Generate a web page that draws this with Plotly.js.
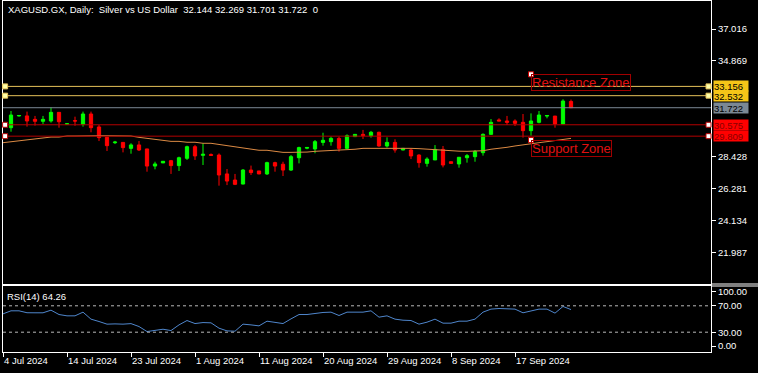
<!DOCTYPE html>
<html><head><meta charset="utf-8">
<script src="https://cdn.plot.ly/plotly-3.0.1.min.js"></script>
<style>html,body{margin:0;padding:0;background:#000;}#chart{width:758px;height:373px;}</style>
</head><body><div id="chart"></div>
<script>
// ---- data ----
const dates = ['2024-07-04','2024-07-05','2024-07-07','2024-07-08','2024-07-09','2024-07-10','2024-07-11','2024-07-12',
'2024-07-14','2024-07-15','2024-07-16','2024-07-17','2024-07-18','2024-07-19','2024-07-21','2024-07-22',
'2024-07-23','2024-07-24','2024-07-25','2024-07-26','2024-07-28','2024-07-29','2024-07-30','2024-07-31',
'2024-08-01','2024-08-02','2024-08-04','2024-08-05','2024-08-06','2024-08-07','2024-08-08','2024-08-09',
'2024-08-11','2024-08-12','2024-08-13','2024-08-14','2024-08-15','2024-08-16','2024-08-18','2024-08-19',
'2024-08-20','2024-08-21','2024-08-22','2024-08-23','2024-08-25','2024-08-26','2024-08-27','2024-08-28',
'2024-08-29','2024-08-30','2024-09-01','2024-09-02','2024-09-03','2024-09-04','2024-09-05','2024-09-06',
'2024-09-08','2024-09-09','2024-09-10','2024-09-11','2024-09-12','2024-09-13','2024-09-15','2024-09-16',
'2024-09-17','2024-09-18','2024-09-19','2024-09-20','2024-09-22','2024-09-23','2024-09-24','2024-09-25'];

const openP  = [null,30.38,31.17,31.17,30.94,30.81,30.83,31.41,30.62,30.85,30.61,31.30,30.43,29.73,29.37,29.39,
28.99,29.22,28.95,27.80,28.01,28.16,27.83,28.32,29.10,28.52,28.57,28.54,27.27,26.86,26.59,27.53,
27.47,27.27,28.03,27.92,27.53,28.36,29.00,28.95,29.39,29.44,29.66,28.99,29.78,29.93,29.84,30.07,
29.15,29.39,28.88,28.88,28.54,27.98,28.21,28.92,28.09,27.94,28.36,28.43,28.70,29.93,30.90,30.83,
30.83,30.74,30.18,30.74,31.16,31.16,30.63,32.144];
const highP  = [null,31.50,31.22,31.46,31.17,31.17,31.75,31.43,30.68,31.12,31.46,31.46,30.56,29.76,29.49,29.40,
29.33,29.48,28.96,28.09,28.14,28.21,28.43,29.17,29.22,29.33,28.65,28.65,27.60,27.27,27.60,27.83,
27.47,28.09,28.09,28.09,28.54,29.10,29.08,29.55,30.04,29.78,29.78,29.93,29.95,30.23,30.16,30.11,
29.73,29.60,29.00,28.99,28.59,28.39,29.21,29.15,28.09,28.39,28.61,28.88,30.00,30.96,31.01,31.17,
30.94,31.30,31.34,31.50,31.21,31.17,32.29,32.269];
const lowP   = [null,30.11,31.13,30.45,30.52,30.63,30.72,30.38,30.58,30.51,30.45,30.07,29.48,28.81,29.28,28.72,
28.63,28.81,27.42,27.58,28.00,27.27,27.47,28.21,28.21,27.87,28.50,26.48,26.52,26.52,26.57,27.20,
27.25,27.20,27.42,27.13,27.47,27.98,28.93,28.66,29.17,29.17,28.77,28.95,29.75,29.62,29.71,29.10,
29.04,28.70,28.86,28.27,27.69,27.76,28.21,27.71,27.98,27.69,28.03,28.09,28.50,29.93,30.83,30.56,
30.49,29.71,29.84,30.67,31.01,30.38,30.63,31.701];
const closeP = [null,31.23,31.20,30.83,30.81,30.94,31.41,30.78,30.64,30.83,31.30,30.38,29.71,29.17,29.41,29.04,
29.22,28.88,27.80,27.94,28.12,27.83,28.36,29.10,28.48,28.59,28.52,27.20,26.79,26.57,27.53,27.36,
27.27,28.03,27.80,27.53,28.43,29.04,29.05,29.44,29.53,29.66,28.99,29.84,29.93,29.84,30.07,29.15,
29.39,28.88,28.99,28.48,28.03,28.27,28.92,27.87,27.98,28.39,28.50,28.77,29.93,30.74,30.83,30.74,
30.67,30.18,30.83,31.23,31.20,30.63,32.17,31.722];

const maValues = [29.37,29.44,29.50,29.57,29.64,29.71,29.75,29.75,29.82,29.82,29.84,29.84,29.84,29.84,29.84,29.82,
29.82,29.73,29.66,29.60,29.53,29.46,29.46,29.40,29.40,29.33,29.33,29.26,29.17,29.08,29.01,28.93,
28.86,28.86,28.79,28.72,28.72,28.72,28.74,28.79,28.81,28.86,28.86,28.86,28.93,28.99,28.99,28.99,
29.04,28.99,28.99,28.99,28.97,28.93,28.93,28.88,28.84,28.80,28.79,28.81,28.83,28.93,28.97,29.06,
29.15,29.21,29.26,29.37,29.44,29.50,29.60,29.66];

const rsiValues = [57.8,62.4,62.4,59.5,59.4,59.4,63.4,56.8,54.8,54.8,60.4,49.8,46.2,42.2,42.6,42.2,
43.0,38.6,31.0,32.5,34.5,32.5,41.1,47.7,43.1,44.6,44.2,36.1,32.0,31.5,42.2,41.1,
39.6,46.7,45.2,43.1,50.2,56.8,56.8,58.9,59.9,60.4,55.3,60.4,60.4,60.4,62.4,52.8,
54.8,49.8,48.2,47.7,42.2,45.2,49.8,43.7,43.7,46.7,46.7,49.8,60.4,65.0,65.9,65.0,
65.0,59.4,61.9,65.0,65.0,58.9,69.0,64.26];

const levelValues = [33.156, 32.532, 31.722, 30.575, 29.809];
const priceTicks = [37.016, 34.869, 28.428, 26.281, 24.134, 21.987];
const rsiLevels = [70, 30];
const rsiTickLabels = ['100.00','70.00','30.00','0.00'];
const monthNames = ['Jan','Feb','Mar','Apr','May','Jun','Jul','Aug','Sep','Oct','Nov','Dec'];
const chartTitle = 'XAGUSD.GX, Daily:  Silver vs US Dollar  32.144 32.269 31.701 31.722  0';
const rsiTitle = 'RSI(14) 64.26';
const zoneLabels = ['Resistance Zone', 'Support Zone'];

// ---- styles ----
const FONT = 'Liberation Sans';
const FS = 9.5;
const levelLine = ['#e6c25a','#e6c25a','#7d8a96','#b40000','#b40000'];
const levelBoxBg = ['#f5c518','#f5c518','#7b8894','#ff0000','#ff0000'];
const levelBoxFg = ['#000000','#000000','#000000','#8a0000','#8a0000'];
const levelHandle = [true,true,false,true,true];
const handleFill = ['#ffffa8','#ffffa8','#fff','#ffffff','#ffffff'];

const idx = dates.map((_, i) => i);
const tickIdx = idx.filter(i => i % 8 === 0);
const tickText = tickIdx.map(i => {
  const [y, m, d] = dates[i].split('-');
  return parseInt(d, 10) + ' ' + monthNames[parseInt(m, 10) - 1] + ' ' + y;
});

const xr = [0, 88.5];

const traces = [
  {
    type: 'candlestick', x: idx, open: openP, high: highP, low: lowP, close: closeP,
    xaxis: 'x', yaxis: 'y',
    increasing: {line: {color: '#00ff00', width: 1}, fillcolor: '#00ff00'},
    decreasing: {line: {color: '#ff0000', width: 1}, fillcolor: '#ff0000'},
    whiskerwidth: 0, hoverinfo: 'none'
  },
  {
    type: 'scatter', mode: 'lines', x: idx, y: maValues, xaxis: 'x', yaxis: 'y',
    line: {color: '#dc8a44', width: 1}, hoverinfo: 'none'
  },
  {
    type: 'scatter', mode: 'lines', x: idx, y: rsiValues, xaxis: 'x2', yaxis: 'y2',
    line: {color: '#4f86cc', width: 1}, hoverinfo: 'none'
  }
];

const shapes = [];
const annotations = [];

levelValues.forEach((v, k) => {
  shapes.push({type: 'line', xref: 'paper', yref: 'y', x0: 0, x1: 1, y0: v, y1: v,
    line: {color: levelLine[k], width: 1}, layer: 'above'});
  annotations.push({xref: 'paper', yref: 'y', x: 1, y: v, xanchor: 'left', yanchor: 'middle',
    xshift: 2, text: v.toFixed(3), showarrow: false, bgcolor: levelBoxBg[k],
    font: {family: FONT, size: FS, color: levelBoxFg[k]}, borderpad: 0, width: 34, height: 10, align: 'left'});
  if (levelHandle[k]) {
    [0.003, 0.9965].forEach(px => {
      shapes.push({type: 'rect', xref: 'paper', yref: 'y', xsizemode: 'pixel', ysizemode: 'pixel',
        xanchor: px, yanchor: v, x0: -2.5, x1: 2.5, y0: -2.5, y1: 2.5,
        fillcolor: handleFill[k], line: {color: levelLine[k], width: 1}, layer: 'above'});
    });
  }
});

rsiLevels.forEach(v => {
  shapes.push({type: 'line', xref: 'paper', yref: 'y2', x0: 0, x1: 1, y0: v, y1: v,
    line: {color: '#b8b8b8', width: 1, dash: '3px,3px'}});
});

// zone labels
const zoneAnchor = [{x: 66, y: 33.97}, {x: 66, y: 29.55}];
zoneLabels.forEach((t, k) => {
  annotations.push({xref: 'x', yref: 'y', x: zoneAnchor[k].x, y: zoneAnchor[k].y, xanchor: 'left', yanchor: 'top',
    text: t, showarrow: false, font: {family: FONT, size: 13, color: '#e01010'},
    bordercolor: '#a00000', borderwidth: 1, borderpad: 0});
  shapes.push({type: 'rect', xref: 'x', yref: 'y', xsizemode: 'pixel', ysizemode: 'pixel',
    xanchor: zoneAnchor[k].x, yanchor: zoneAnchor[k].y, x0: -2.5, x1: 2.5, y0: -2.5, y1: 2.5,
    fillcolor: '#ffffff', line: {color: '#d00000', width: 1}, layer: 'above'});
});

// separators extending to the right edge
shapes.push({type: 'line', xref: 'paper', yref: 'paper', x0: 1, x1: 1.07, y0: 0.1937, y1: 0.1937, line: {color: '#fff', width: 1}});
shapes.push({type: 'line', xref: 'paper', yref: 'paper', x0: 1, x1: 1.07, y0: 0.188, y1: 0.188, line: {color: '#fff', width: 1}});

annotations.push({xref: 'paper', yref: 'paper', x: 0, y: 1, xanchor: 'left', yanchor: 'top', xshift: 3, yshift: -1,
  text: chartTitle, showarrow: false, font: {family: FONT, size: FS, color: '#fff'}});
annotations.push({xref: 'paper', yref: 'paper', x: 0, y: 0.188, xanchor: 'left', yanchor: 'top', xshift: 2, yshift: -3,
  text: rsiTitle, showarrow: false, font: {family: FONT, size: FS, color: '#fff'}});

const axisCommon = {showgrid: false, zeroline: false, showline: true, mirror: true, linecolor: '#fff', linewidth: 1,
  tickcolor: '#fff', tickfont: {family: FONT, size: FS, color: '#fff'}};

const layout = {
  width: 758, height: 373,
  paper_bgcolor: '#000', plot_bgcolor: '#000',
  margin: {l: 3, r: 47, t: 1, b: 21},
  showlegend: false,
  boxgap: 0.42,
  font: {family: FONT, size: FS, color: '#fff'},
  xaxis: Object.assign({}, axisCommon, {domain: [0, 1], anchor: 'y', range: xr, showticklabels: false, ticks: '',
    rangeslider: {visible: false}}),
  yaxis: Object.assign({}, axisCommon, {domain: [0.1937, 1], anchor: 'x', side: 'right', range: [19.867, 38.899],
    tickvals: priceTicks, ticktext: priceTicks.map(v => v.toFixed(3)), ticks: 'outside', ticklen: 4}),
  xaxis2: Object.assign({}, axisCommon, {domain: [0, 1], anchor: 'y2', range: xr,
    tickvals: tickIdx, ticktext: tickText, ticks: 'outside', ticklen: 4, tickangle: 0,
    ticklabelposition: 'outside right', ticklabelstandoff: 0}),
  yaxis2: Object.assign({}, axisCommon, {domain: [0, 0.188], anchor: 'x2', side: 'right', range: [0, 100],
    tickvals: [91.5, 70, 30, 9], ticktext: rsiTickLabels, ticks: 'outside', ticklen: 4}),
  shapes: shapes,
  annotations: annotations
};

Plotly.newPlot('chart', traces, layout, {staticPlot: true, displayModeBar: false});
</script>
</body></html>
